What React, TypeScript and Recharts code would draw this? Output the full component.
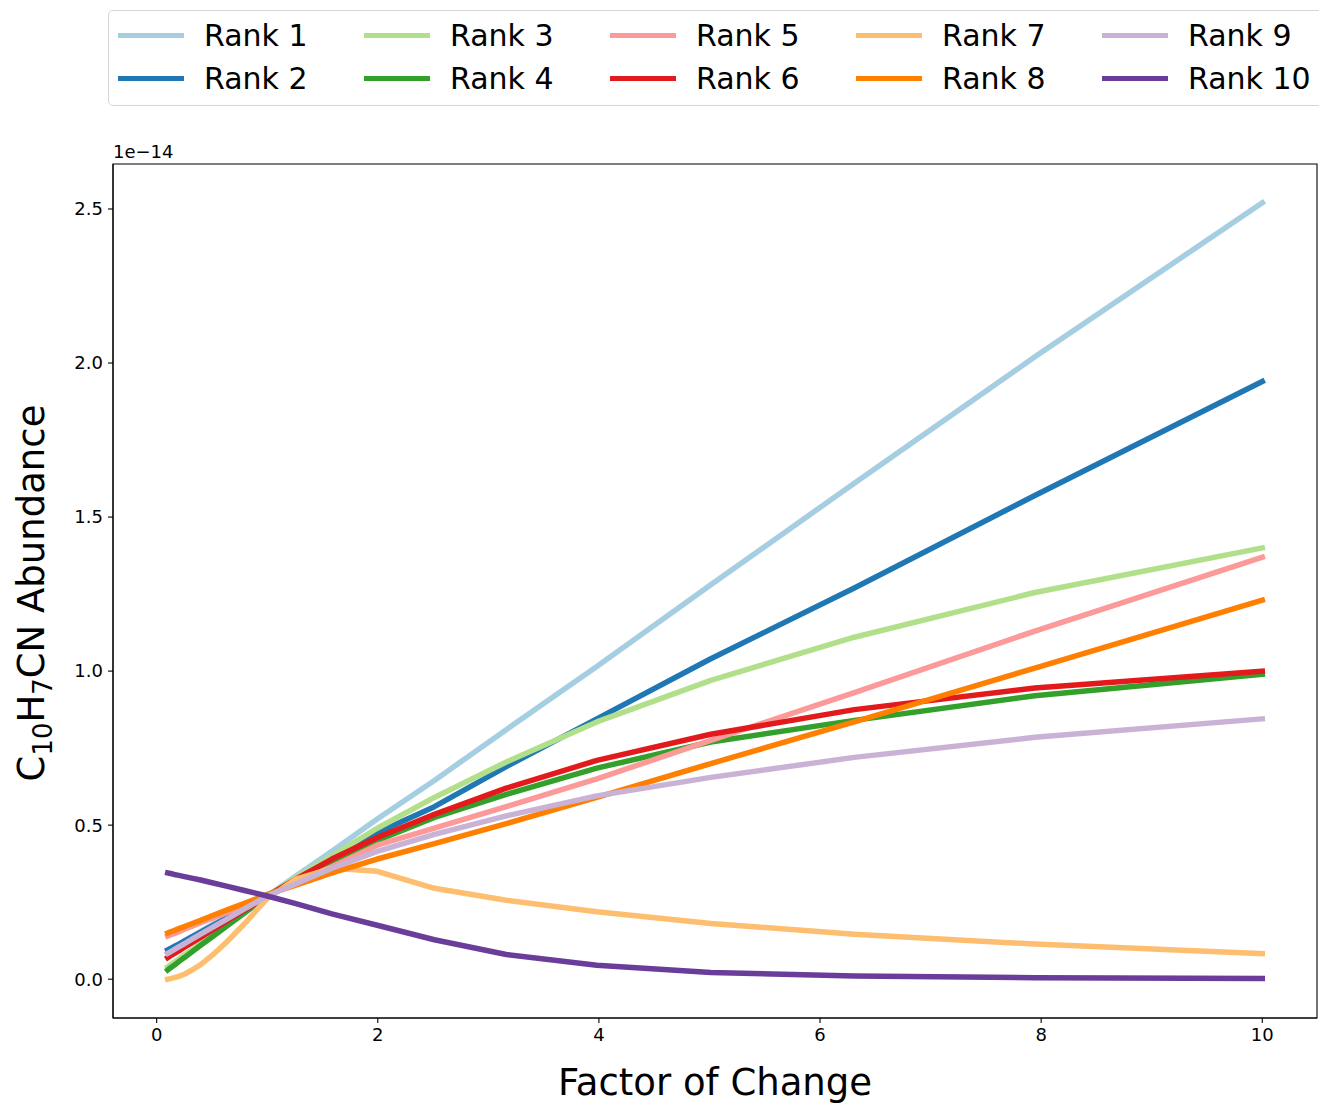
import { Line, LineChart, ReferenceArea, XAxis, YAxis } from "recharts";

// x positions of the model runs (log spaced, 0.1 .. 10)
const FACTORS = [
  0.1, 0.126, 0.158, 0.2, 0.251, 0.316, 0.398, 0.501, 0.631, 0.794, 1.0, 1.259, 1.585, 1.995, 2.512,
  3.162, 3.981, 5.012, 6.31, 7.943, 10.0,
];

// abundances, in units of 1e-14
const rank1 = [0.085, 0.092, 0.1, 0.11, 0.122, 0.137, 0.155, 0.177, 0.203, 0.235, 0.27, 0.335, 0.415, 0.52, 0.645, 0.81, 1.015, 1.28, 1.61, 2.02, 2.52];
const rank2 = [0.095, 0.1, 0.106, 0.114, 0.124, 0.137, 0.153, 0.173, 0.198, 0.23, 0.27, 0.32, 0.385, 0.475, 0.56, 0.69, 0.845, 1.04, 1.27, 1.57, 1.94];
const rank3 = [0.04, 0.047, 0.055, 0.066, 0.079, 0.095, 0.116, 0.143, 0.176, 0.218, 0.27, 0.33, 0.4, 0.49, 0.59, 0.705, 0.835, 0.97, 1.11, 1.255, 1.4];
const rank4 = [0.03, 0.037, 0.045, 0.057, 0.07, 0.088, 0.11, 0.137, 0.172, 0.215, 0.27, 0.32, 0.38, 0.45, 0.525, 0.6, 0.685, 0.77, 0.84, 0.92, 0.99];
const rank5 = [0.14, 0.144, 0.148, 0.154, 0.162, 0.171, 0.183, 0.198, 0.216, 0.24, 0.27, 0.315, 0.365, 0.435, 0.49, 0.56, 0.65, 0.775, 0.93, 1.13, 1.37];
const rank6 = [0.07, 0.076, 0.083, 0.092, 0.104, 0.118, 0.136, 0.159, 0.188, 0.224, 0.27, 0.325, 0.39, 0.46, 0.535, 0.62, 0.71, 0.795, 0.875, 0.945, 1.0];
const rank7 = [0.0, 0.002, 0.005, 0.009, 0.016, 0.029, 0.047, 0.077, 0.12, 0.18, 0.262, 0.325, 0.36, 0.35, 0.295, 0.256, 0.219, 0.181, 0.146, 0.114, 0.083];
const rank8 = [0.15, 0.154, 0.158, 0.164, 0.171, 0.18, 0.191, 0.206, 0.224, 0.246, 0.275, 0.305, 0.345, 0.39, 0.44, 0.505, 0.59, 0.7, 0.835, 1.01, 1.23];
const rank9 = [0.084, 0.089, 0.096, 0.105, 0.115, 0.129, 0.146, 0.167, 0.194, 0.228, 0.27, 0.31, 0.36, 0.415, 0.47, 0.53, 0.595, 0.655, 0.72, 0.785, 0.845];
const rank10 = [0.345, 0.343, 0.34, 0.337, 0.333, 0.328, 0.322, 0.313, 0.302, 0.288, 0.27, 0.245, 0.212, 0.175, 0.128, 0.08, 0.045, 0.022, 0.01, 0.005, 0.002];

const RANK_NAMES = ["Rank 1", "Rank 2", "Rank 3", "Rank 4", "Rank 5", "Rank 6", "Rank 7", "Rank 8", "Rank 9", "Rank 10"];
const RANK_VALUES = [rank1, rank2, rank3, rank4, rank5, rank6, rank7, rank8, rank9, rank10];

const X_TICKS = [0, 2, 4, 6, 8, 10];
const Y_TICKS = [0, 0.5, 1, 1.5, 2, 2.5];

// matplotlib "Paired"
const COLORS = ["#a6cee3", "#1f78b4", "#b2df8a", "#33a02c", "#fb9a99", "#e31a1c", "#fdbf6f", "#ff7f00", "#cab2d6", "#6a3d9a"];

const FONT = '"DejaVu Sans", Verdana, sans-serif';
const X_DOMAIN: [number, number] = [-0.395, 10.495];
const Y_DOMAIN: [number, number] = [-0.126, 2.646];

const data = FACTORS.map((x, i) => {
  const row: Record<string, number> = { x };
  RANK_NAMES.forEach((name, k) => {
    row[name] = RANK_VALUES[k][i];
  });
  return row;
});

const tickStyle = { fontFamily: FONT, fontSize: 18, fill: "#000" };
const subStyle = { fontSize: "0.7em", position: "relative" as const, top: "0.3em" };

const Legend = () => (
  <div
    style={{
      position: "absolute",
      left: 108,
      top: 10,
      width: 1230,
      height: 96,
      border: "1px solid #d6d6d6",
      borderRadius: 5,
      boxSizing: "border-box",
      padding: "3px 0 0 9px",
      display: "grid",
      gridTemplateColumns: "repeat(5, 246px)",
      gridTemplateRows: "repeat(2, 43px)",
      gridAutoFlow: "column",
      fontFamily: FONT,
      fontSize: 30,
      background: "#fff",
    }}
  >
    {RANK_NAMES.map((name, i) => (
      <div key={name} style={{ display: "flex", alignItems: "center" }}>
        <div style={{ width: 66, height: 5.5, background: COLORS[i], marginRight: 20 }} />
        <span style={{ lineHeight: 1 }}>{name}</span>
      </div>
    ))}
  </div>
);

export default function App() {
  return (
    <div style={{ position: "absolute", left: 0, top: 0, width: 1319, height: 1103, background: "#fff" }}>
      <LineChart width={1319} height={1103} data={data} margin={{ top: 164, right: 2, bottom: 45, left: 53 }}>
        <XAxis
          dataKey="x"
          type="number"
          domain={X_DOMAIN}
          ticks={X_TICKS}
          height={40}
          tick={tickStyle}
          tickSize={5}
          tickMargin={5}
          stroke="#000"
          axisLine={{ stroke: "#000", strokeWidth: 1.1 }}
          tickLine={{ stroke: "#000", strokeWidth: 1.1 }}
        />
        <YAxis
          type="number"
          domain={Y_DOMAIN}
          ticks={Y_TICKS}
          width={60}
          tick={tickStyle}
          tickSize={5}
          tickMargin={5}
          tickFormatter={(v: number) => v.toFixed(1)}
          axisLine={{ stroke: "#000", strokeWidth: 1.1 }}
          tickLine={{ stroke: "#000", strokeWidth: 1.1 }}
        />
        <ReferenceArea
          x1={X_DOMAIN[0]}
          x2={X_DOMAIN[1]}
          y1={Y_DOMAIN[0]}
          y2={Y_DOMAIN[1]}
          fill="none"
          fillOpacity={0}
          stroke="#000"
          strokeWidth={1.1}
        />
        {RANK_NAMES.map((name, i) => (
          <Line
            key={name}
            type="linear"
            dataKey={name}
            stroke={COLORS[i]}
            strokeWidth={5.5}
            strokeLinecap="square"
            strokeLinejoin="round"
            dot={false}
            activeDot={false}
            isAnimationActive={false}
          />
        ))}
      </LineChart>

      <Legend />

      <div style={{ position: "absolute", left: 113, top: 143, fontFamily: FONT, fontSize: 18, lineHeight: "18px" }}>
        1e−14
      </div>

      <div
        style={{
          position: "absolute",
          left: 715,
          top: 1064,
          transform: "translateX(-50%)",
          fontFamily: FONT,
          fontSize: 37,
          lineHeight: 1,
          whiteSpace: "nowrap",
        }}
      >
        Factor of Change
      </div>

      <div
        style={{
          position: "absolute",
          left: 31,
          top: 593,
          transform: "translate(-50%, -50%) rotate(-90deg)",
          fontFamily: FONT,
          fontSize: 37,
          lineHeight: 1,
          whiteSpace: "nowrap",
        }}
      >
        C<span style={subStyle}>10</span>H<span style={subStyle}>7</span>CN Abundance
      </div>
    </div>
  );
}
